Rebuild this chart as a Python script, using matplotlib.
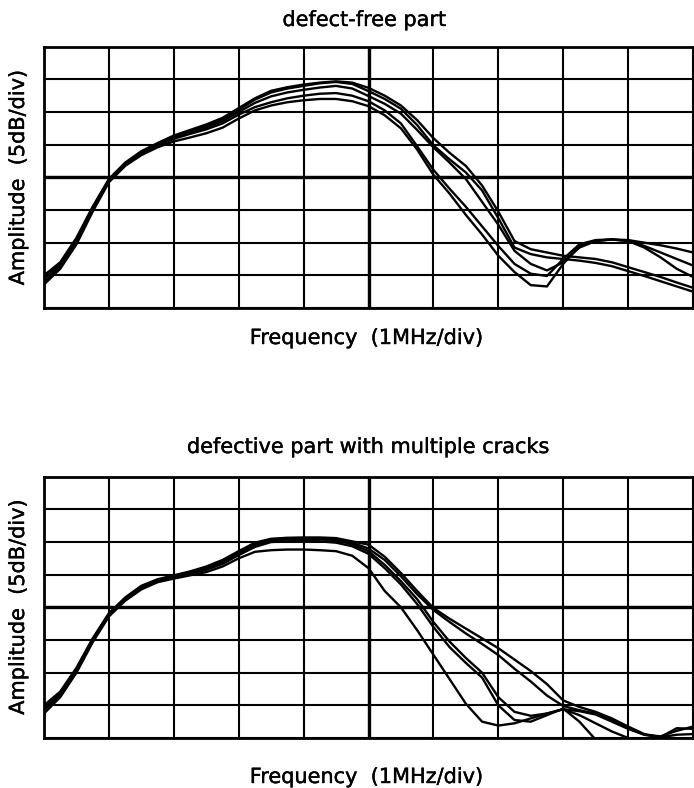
import matplotlib
matplotlib.use("Agg")
import matplotlib.pyplot as plt
import matplotlib.patheffects as pe

# frequency axis in divisions (1 MHz/div), amplitude in divisions (5 dB/div)
freq_div = [0.0, 0.25, 0.5, 0.75, 1.0, 1.25, 1.5, 1.75, 2.0, 2.25,
            2.5, 2.75, 3.0, 3.25, 3.5, 3.75, 4.0, 4.25, 4.5, 4.75,
            5.0, 5.25, 5.5, 5.75, 6.0, 6.25, 6.5, 6.75, 7.0, 7.25,
            7.5, 7.75, 8.0, 8.25, 8.5, 8.75, 9.0, 9.25, 9.5, 9.75, 10.0]

# defect-free part, five scans
free_1 = [1.0, 1.4, 2.15, 3.1, 3.95, 4.45, 4.8, 5.05, 5.28, 5.45,
          5.62, 5.82, 6.12, 6.42, 6.65, 6.76, 6.84, 6.9, 6.94, 6.9,
          6.74, 6.5, 6.2, 5.75, 5.2, 4.75, 4.35, 3.75, 2.95, 2.05,
          1.8, 1.7, 1.6, 1.55, 1.5, 1.4, 1.25, 1.1, 0.95, 0.78, 0.62]
free_2 = [0.95, 1.35, 2.1, 3.08, 3.92, 4.42, 4.78, 5.03, 5.25, 5.42,
          5.58, 5.78, 6.07, 6.38, 6.6, 6.72, 6.8, 6.88, 6.92, 6.86,
          6.64, 6.4, 6.1, 5.6, 4.98, 4.55, 4.15, 3.6, 2.75, 1.85,
          1.65, 1.55, 1.5, 1.45, 1.38, 1.28, 1.13, 0.98, 0.82, 0.66, 0.5]
free_3 = [0.9, 1.3, 2.05, 3.05, 3.9, 4.4, 4.75, 5.0, 5.22, 5.38,
          5.52, 5.72, 6.0, 6.28, 6.48, 6.6, 6.68, 6.75, 6.8, 6.72,
          6.49, 6.25, 5.95, 5.45, 4.92, 4.45, 3.95, 3.25, 2.55, 1.75,
          1.35, 1.15, 1.4, 1.85, 2.05, 2.1, 2.08, 2.0, 1.92, 1.82, 1.7]
free_4 = [0.8, 1.25, 2.0, 3.0, 3.88, 4.38, 4.72, 4.97, 5.18, 5.33,
          5.47, 5.65, 5.92, 6.15, 6.3, 6.42, 6.5, 6.56, 6.58, 6.5,
          6.33, 6.05, 5.65, 4.95, 4.23, 3.65, 3.1, 2.5, 1.9, 1.35,
          1.05, 0.98, 1.5, 1.95, 2.08, 2.1, 2.05, 1.9, 1.7, 1.5, 1.3]
free_5 = [0.72, 1.2, 1.95, 2.95, 3.85, 4.35, 4.68, 4.92, 5.1, 5.22,
          5.35, 5.52, 5.8, 6.05, 6.2, 6.3, 6.36, 6.4, 6.4, 6.33,
          6.18, 5.9, 5.5, 4.85, 4.08, 3.5, 2.85, 2.25, 1.6, 1.1,
          0.7, 0.66, 1.35, 1.9, 2.05, 2.1, 2.05, 1.85, 1.55, 1.2, 0.95]

# defective part with multiple cracks, five scans
crack_1 = [1.0, 1.42, 2.15, 3.05, 3.82, 4.3, 4.66, 4.86, 4.98, 5.1,
           5.25, 5.45, 5.72, 5.98, 6.1, 6.13, 6.14, 6.14, 6.12, 6.02,
           5.92, 5.55, 5.05, 4.5, 3.98, 3.65, 3.35, 3.05, 2.75, 2.4,
           2.05, 1.65, 1.15, 0.95, 0.8, 0.6, 0.35, 0.12, 0.03, 0.3, 0.28]
crack_2 = [0.95, 1.38, 2.1, 3.02, 3.8, 4.27, 4.63, 4.84, 4.96, 5.08,
           5.22, 5.42, 5.68, 5.95, 6.08, 6.1, 6.11, 6.11, 6.09, 5.98,
           5.8, 5.45, 4.95, 4.4, 3.92, 3.55, 3.2, 2.88, 2.54, 2.12,
           1.73, 1.3, 0.98, 0.85, 0.75, 0.55, 0.3, 0.1, 0.02, 0.1, 0.12]
crack_3 = [0.9, 1.34, 2.07, 3.0, 3.78, 4.25, 4.6, 4.82, 4.94, 5.05,
           5.18, 5.38, 5.65, 5.9, 6.05, 6.07, 6.08, 6.08, 6.05, 5.93,
           5.72, 5.3, 4.8, 4.25, 3.55, 2.95, 2.45, 2.0, 1.25, 0.8,
           0.68, 0.75, 0.88, 0.7, 0.45, 0.2, 0.0, -0.3, -0.6, -0.8, -1.0]
crack_4 = [0.85, 1.3, 2.03, 2.97, 3.76, 4.22, 4.58, 4.8, 4.92, 5.02,
           5.15, 5.33, 5.6, 5.85, 6.0, 6.02, 6.03, 6.02, 5.98, 5.87,
           5.64, 5.2, 4.7, 4.1, 3.4, 2.78, 2.3, 1.85, 1.0, 0.55,
           0.5, 0.7, 0.9, 0.5, -0.05, -0.6, -1.0, -1.0, -1.0, -1.0, -1.0]
crack_5 = [0.75, 1.25, 2.0, 2.93, 3.72, 4.2, 4.55, 4.77, 4.88, 4.98,
           5.08, 5.25, 5.5, 5.7, 5.75, 5.77, 5.77, 5.75, 5.72, 5.58,
           5.2, 4.5, 4.0, 3.3, 2.55, 1.8, 1.05, 0.5, 0.38, 0.45,
           0.6, 0.75, 0.88, 0.82, 0.72, 0.5, 0.28, 0.1, 0.05, 0.22, 0.35]

titles = ["defect-free part", "defective part with multiple cracks"]
xlabel = "Frequency  (1MHz/div)"
ylabel = "Amplitude  (5dB/div)"

W, H = 694, 788
fig = plt.figure(figsize=(W / 100, H / 100), dpi=100)
# slightly heavier strokes, like the scanned lettering
fnt = {'family': 'DejaVu Sans', 'size': 15,
       'path_effects': [pe.withStroke(linewidth=0.3, foreground='black')]}


def grid_panel(top_px):
    ax = fig.add_axes([44 / W, 1 - (top_px + 261.3) / H, 649 / W, 261.3 / H])
    ax.set_xlim(0, 10)
    ax.set_ylim(0, 8)
    ax.set_xticks(range(11))
    ax.set_yticks(range(9))
    ax.tick_params(length=0, labelbottom=False, labelleft=False)
    ax.grid(True, color='black', linewidth=1.5)
    ax.axvline(5, color='black', linewidth=2.4)
    ax.axhline(4, color='black', linewidth=2.4)
    for s in ax.spines.values():
        s.set_linewidth(2.0)
    return ax


ax1 = grid_panel(46.7)
for y in [free_1, free_2, free_3, free_4, free_5]:
    ax1.plot(freq_div, y, color='black', linewidth=1.7, solid_joinstyle='round')

ax2 = grid_panel(476.7)
for y in [crack_1, crack_2, crack_3, crack_4, crack_5]:
    ax2.plot(freq_div, y, color='black', linewidth=1.7, solid_joinstyle='round')

cx = (44 + 649 / 2) / W
fig.text(cx - 4 / W, 1 - 20 / H, titles[0], ha='center', va='center', **fnt)
fig.text(cx, 1 - 447 / H, titles[1], ha='center', va='center', **fnt)
fig.text(cx - 2 / W, 1 - 338 / H, xlabel, ha='center', va='center', **fnt)
fig.text(cx - 2 / W, 1 - 777 / H, xlabel, ha='center', va='center', **fnt)
fig.text(18 / W, 1 - 177.5 / H, ylabel, ha='center', va='center', rotation=90, **fnt)
fig.text(18 / W, 1 - 607 / H, ylabel, ha='center', va='center', rotation=90, **fnt)

fig.savefig("out.png", dpi=100)
